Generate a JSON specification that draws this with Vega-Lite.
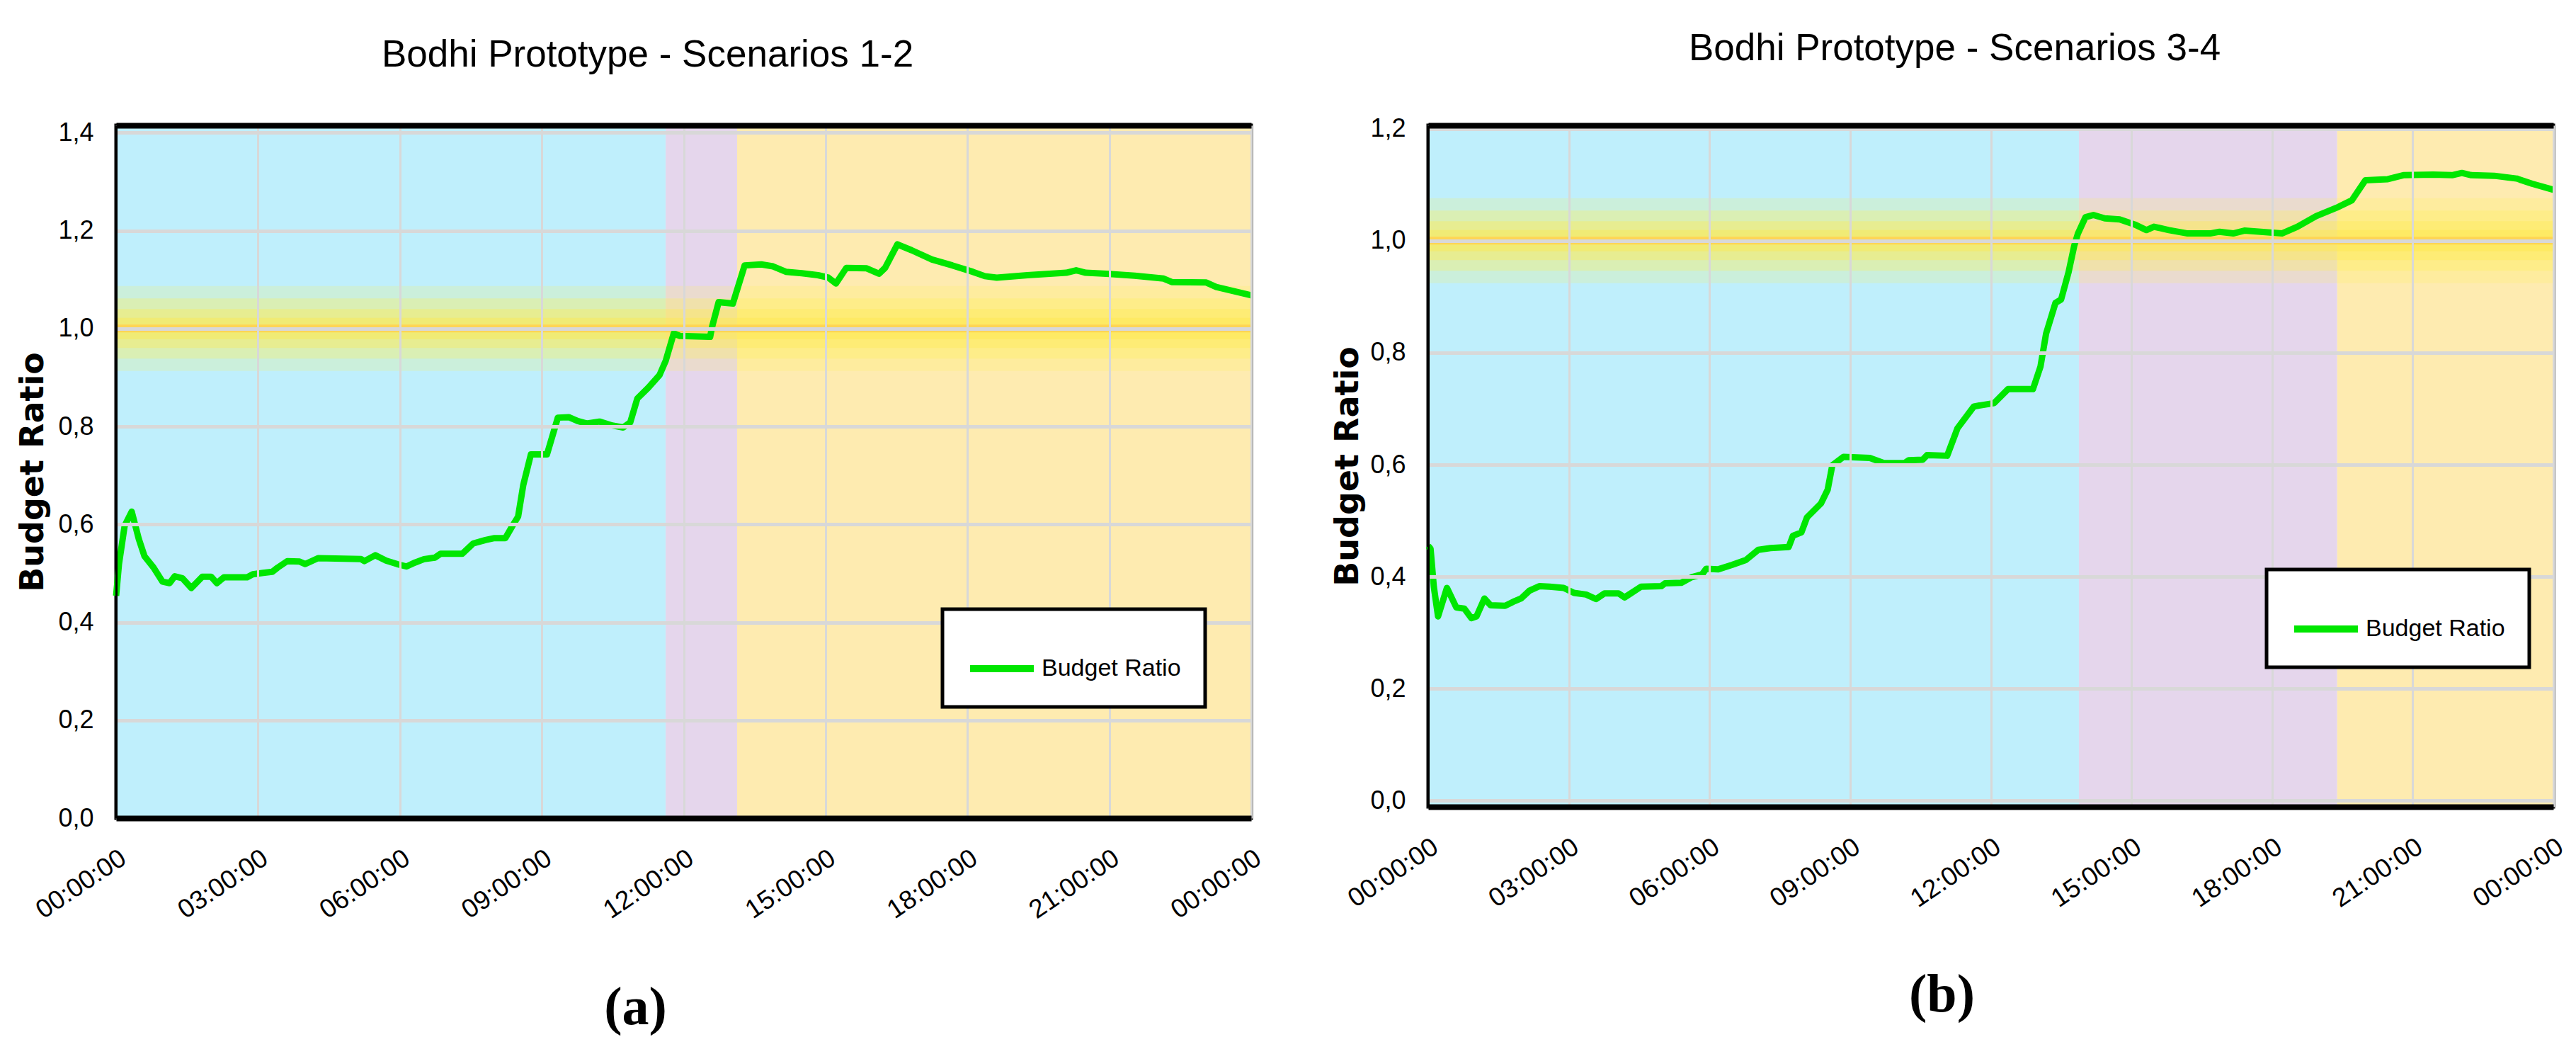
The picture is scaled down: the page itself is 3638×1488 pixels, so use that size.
{
  "$schema": "https://vega.github.io/schema/vega-lite/v6.json",
  "description": "Bodhi prototype budget ratio over a day, scenarios 1-2 and 3-4.",
  "background": "white",
  "padding": {"left": 20, "top": 40, "right": 10, "bottom": 10},
  "datasets": {
    "target": [{"level": 1}],
    "phases12": [
      {"start": 0, "end": 11.62, "phase": "first"},
      {"start": 11.62, "end": 13.13, "phase": "transition"},
      {"start": 13.13, "end": 24, "phase": "second"}
    ],
    "phases34": [
      {"start": 0, "end": 13.88, "phase": "first"},
      {"start": 13.88, "end": 19.39, "phase": "transition"},
      {"start": 19.39, "end": 24, "phase": "second"}
    ],
    "ratio12": [
      {"t": 0.0, "ratio": 0.454}, {"t": 0.06, "ratio": 0.519}, {"t": 0.18, "ratio": 0.597}, {"t": 0.33, "ratio": 0.626},
      {"t": 0.48, "ratio": 0.57}, {"t": 0.6, "ratio": 0.535}, {"t": 0.79, "ratio": 0.512}, {"t": 0.98, "ratio": 0.483},
      {"t": 1.13, "ratio": 0.48}, {"t": 1.24, "ratio": 0.494}, {"t": 1.4, "ratio": 0.49}, {"t": 1.59, "ratio": 0.47},
      {"t": 1.82, "ratio": 0.493}, {"t": 2.01, "ratio": 0.493}, {"t": 2.13, "ratio": 0.48}, {"t": 2.28, "ratio": 0.492},
      {"t": 2.77, "ratio": 0.492}, {"t": 2.89, "ratio": 0.498}, {"t": 3.11, "ratio": 0.501}, {"t": 3.3, "ratio": 0.503},
      {"t": 3.42, "ratio": 0.512}, {"t": 3.62, "ratio": 0.525}, {"t": 3.88, "ratio": 0.524}, {"t": 4.0, "ratio": 0.519},
      {"t": 4.27, "ratio": 0.531}, {"t": 5.18, "ratio": 0.529}, {"t": 5.25, "ratio": 0.525}, {"t": 5.48, "ratio": 0.537},
      {"t": 5.71, "ratio": 0.526}, {"t": 5.94, "ratio": 0.519}, {"t": 6.14, "ratio": 0.514}, {"t": 6.32, "ratio": 0.522},
      {"t": 6.51, "ratio": 0.529}, {"t": 6.74, "ratio": 0.532}, {"t": 6.86, "ratio": 0.54}, {"t": 7.32, "ratio": 0.54},
      {"t": 7.55, "ratio": 0.561}, {"t": 7.81, "ratio": 0.568}, {"t": 8.0, "ratio": 0.572}, {"t": 8.23, "ratio": 0.572},
      {"t": 8.38, "ratio": 0.597}, {"t": 8.5, "ratio": 0.616}, {"t": 8.61, "ratio": 0.681}, {"t": 8.77, "ratio": 0.743},
      {"t": 9.11, "ratio": 0.743}, {"t": 9.34, "ratio": 0.818}, {"t": 9.57, "ratio": 0.819}, {"t": 9.76, "ratio": 0.811},
      {"t": 9.95, "ratio": 0.806}, {"t": 10.22, "ratio": 0.81}, {"t": 10.49, "ratio": 0.802}, {"t": 10.72, "ratio": 0.798},
      {"t": 10.87, "ratio": 0.808}, {"t": 11.02, "ratio": 0.857}, {"t": 11.25, "ratio": 0.879}, {"t": 11.49, "ratio": 0.905},
      {"t": 11.62, "ratio": 0.934}, {"t": 11.79, "ratio": 0.99}, {"t": 11.92, "ratio": 0.985}, {"t": 12.56, "ratio": 0.983},
      {"t": 12.6, "ratio": 1.003}, {"t": 12.74, "ratio": 1.054}, {"t": 13.04, "ratio": 1.051}, {"t": 13.29, "ratio": 1.129},
      {"t": 13.64, "ratio": 1.131}, {"t": 13.89, "ratio": 1.127}, {"t": 14.16, "ratio": 1.116}, {"t": 14.5, "ratio": 1.113},
      {"t": 14.84, "ratio": 1.109}, {"t": 15.06, "ratio": 1.104}, {"t": 15.22, "ratio": 1.092}, {"t": 15.44, "ratio": 1.124},
      {"t": 15.87, "ratio": 1.123}, {"t": 16.13, "ratio": 1.112}, {"t": 16.26, "ratio": 1.124}, {"t": 16.52, "ratio": 1.172},
      {"t": 16.82, "ratio": 1.16}, {"t": 17.25, "ratio": 1.141}, {"t": 17.68, "ratio": 1.129}, {"t": 18.11, "ratio": 1.116},
      {"t": 18.37, "ratio": 1.107}, {"t": 18.62, "ratio": 1.104}, {"t": 19.27, "ratio": 1.109}, {"t": 20.09, "ratio": 1.114},
      {"t": 20.3, "ratio": 1.119}, {"t": 20.5, "ratio": 1.114}, {"t": 20.94, "ratio": 1.112}, {"t": 21.54, "ratio": 1.108},
      {"t": 22.15, "ratio": 1.102}, {"t": 22.32, "ratio": 1.095}, {"t": 23.05, "ratio": 1.094}, {"t": 23.26, "ratio": 1.085},
      {"t": 24.0, "ratio": 1.068}
    ],
    "ratio34": [
      {"t": 0.0, "ratio": 0.455}, {"t": 0.05, "ratio": 0.45}, {"t": 0.12, "ratio": 0.382}, {"t": 0.21, "ratio": 0.329},
      {"t": 0.4, "ratio": 0.38}, {"t": 0.6, "ratio": 0.345}, {"t": 0.77, "ratio": 0.343}, {"t": 0.92, "ratio": 0.326},
      {"t": 1.03, "ratio": 0.329}, {"t": 1.2, "ratio": 0.361}, {"t": 1.33, "ratio": 0.349}, {"t": 1.64, "ratio": 0.348},
      {"t": 1.81, "ratio": 0.355}, {"t": 1.98, "ratio": 0.361}, {"t": 2.16, "ratio": 0.375}, {"t": 2.37, "ratio": 0.383},
      {"t": 2.59, "ratio": 0.382}, {"t": 2.89, "ratio": 0.38}, {"t": 3.11, "ratio": 0.371}, {"t": 3.37, "ratio": 0.368},
      {"t": 3.58, "ratio": 0.36}, {"t": 3.76, "ratio": 0.37}, {"t": 4.06, "ratio": 0.37}, {"t": 4.19, "ratio": 0.363},
      {"t": 4.54, "ratio": 0.382}, {"t": 4.97, "ratio": 0.383}, {"t": 5.05, "ratio": 0.388}, {"t": 5.4, "ratio": 0.389},
      {"t": 5.62, "ratio": 0.399}, {"t": 5.84, "ratio": 0.404}, {"t": 5.93, "ratio": 0.414}, {"t": 6.18, "ratio": 0.413},
      {"t": 6.48, "ratio": 0.421}, {"t": 6.78, "ratio": 0.43}, {"t": 7.04, "ratio": 0.448}, {"t": 7.3, "ratio": 0.451},
      {"t": 7.69, "ratio": 0.453}, {"t": 7.78, "ratio": 0.473}, {"t": 7.96, "ratio": 0.479}, {"t": 8.08, "ratio": 0.506},
      {"t": 8.38, "ratio": 0.531}, {"t": 8.52, "ratio": 0.555}, {"t": 8.62, "ratio": 0.599}, {"t": 8.86, "ratio": 0.614},
      {"t": 9.42, "ratio": 0.612}, {"t": 9.72, "ratio": 0.603}, {"t": 10.16, "ratio": 0.603}, {"t": 10.25, "ratio": 0.608},
      {"t": 10.55, "ratio": 0.609}, {"t": 10.64, "ratio": 0.617}, {"t": 11.07, "ratio": 0.616}, {"t": 11.29, "ratio": 0.665},
      {"t": 11.64, "ratio": 0.704}, {"t": 12.07, "ratio": 0.71}, {"t": 12.37, "ratio": 0.735}, {"t": 12.9, "ratio": 0.735},
      {"t": 13.06, "ratio": 0.775}, {"t": 13.18, "ratio": 0.834}, {"t": 13.38, "ratio": 0.889}, {"t": 13.5, "ratio": 0.895},
      {"t": 13.66, "ratio": 0.944}, {"t": 13.78, "ratio": 0.991}, {"t": 13.86, "ratio": 1.013}, {"t": 14.02, "ratio": 1.042},
      {"t": 14.19, "ratio": 1.046}, {"t": 14.43, "ratio": 1.04}, {"t": 14.75, "ratio": 1.038}, {"t": 15.07, "ratio": 1.029},
      {"t": 15.32, "ratio": 1.019}, {"t": 15.48, "ratio": 1.025}, {"t": 15.8, "ratio": 1.019}, {"t": 16.2, "ratio": 1.013},
      {"t": 16.68, "ratio": 1.013}, {"t": 16.88, "ratio": 1.016}, {"t": 17.17, "ratio": 1.013}, {"t": 17.41, "ratio": 1.018},
      {"t": 18.21, "ratio": 1.013}, {"t": 18.54, "ratio": 1.025}, {"t": 18.94, "ratio": 1.044}, {"t": 19.38, "ratio": 1.059},
      {"t": 19.7, "ratio": 1.072}, {"t": 19.99, "ratio": 1.108}, {"t": 20.47, "ratio": 1.11}, {"t": 20.8, "ratio": 1.117},
      {"t": 21.44, "ratio": 1.118}, {"t": 21.84, "ratio": 1.117}, {"t": 22.05, "ratio": 1.121}, {"t": 22.25, "ratio": 1.117},
      {"t": 22.74, "ratio": 1.116}, {"t": 23.22, "ratio": 1.111}, {"t": 23.54, "ratio": 1.102}, {"t": 24.0, "ratio": 1.091}
    ]
  },
  "hconcat": [
    {
      "width": 1603,
      "height": 978,
      "title": {"text": "Bodhi Prototype - Scenarios 1-2", "dx": -51, "offset": 64},
      "layer": [
        {
          "data": {"name": "phases12"},
          "mark": {"type": "rect"},
          "encoding": {
            "x": {"field": "start", "type": "quantitative", "scale": {"domain": [0, 24], "nice": false},
              "axis": {"values": [0, 3, 6, 9, 12, 15, 18, 21, 24], "zindex": 1, "title": "(a)", "titleX": 733, "titleY": 267}},
            "x2": {"field": "end"},
            "fill": {"field": "phase", "type": "nominal", "scale": {"domain": ["first", "transition", "second"], "range": ["#bfeffc", "#e5d6ec", "#feebb0"]}, "legend": null}
          }
        },
        {"data": {"name": "target"}, "mark": {"type": "rule", "color": "#ffee58", "strokeWidth": 120, "opacity": 0.2}, "encoding": {"y": {"field": "level", "type": "quantitative"}}},
        {"data": {"name": "target"}, "mark": {"type": "rule", "color": "#ffee58", "strokeWidth": 85, "opacity": 0.3}, "encoding": {"y": {"field": "level", "type": "quantitative"}}},
        {"data": {"name": "target"}, "mark": {"type": "rule", "color": "#ffec50", "strokeWidth": 55, "opacity": 0.35}, "encoding": {"y": {"field": "level", "type": "quantitative"}}},
        {"data": {"name": "target"}, "mark": {"type": "rule", "color": "#ffe94a", "strokeWidth": 30, "opacity": 0.4}, "encoding": {"y": {"field": "level", "type": "quantitative"}}},
        {"data": {"name": "target"}, "mark": {"type": "rule", "color": "#ffd452", "strokeWidth": 11, "opacity": 0.95}, "encoding": {"y": {"field": "level", "type": "quantitative"}}},
        {
          "data": {"name": "ratio12"},
          "mark": {"type": "line", "strokeWidth": 9, "strokeJoin": "round", "zindex": 2},
          "encoding": {
            "x": {"field": "t", "type": "quantitative", "axis": {"orient": "top", "zindex": 1, "labels": false, "ticks": false, "grid": false, "title": null, "domainWidth": 8}},
            "y": {"field": "ratio", "type": "quantitative", "scale": {"domain": [0, 1.415], "nice": false, "zero": false},
              "axis": {"values": [0, 0.2, 0.4, 0.6, 0.8, 1.0, 1.2, 1.4], "zindex": 1, "title": "Budget Ratio", "titleX": -118}},
            "stroke": {"datum": "Budget Ratio", "type": "nominal", "scale": {"range": ["#00e600"]}, "legend": {"legendX": 1167, "legendY": 683}}
          }
        }
      ],
      "resolve": {"axis": {"x": "independent"}}
    },
    {
      "width": 1589,
      "height": 962,
      "title": {"text": "Bodhi Prototype - Scenarios 3-4", "dx": -51, "offset": 68},
      "layer": [
        {
          "data": {"name": "phases34"},
          "mark": {"type": "rect"},
          "encoding": {
            "x": {"field": "start", "type": "quantitative", "scale": {"domain": [0, 24], "nice": false},
              "axis": {"values": [0, 3, 6, 9, 12, 15, 18, 21, 24], "zindex": 1, "title": "(b)", "titleX": 725, "titleY": 265}},
            "x2": {"field": "end"},
            "fill": {"field": "phase", "type": "nominal", "scale": {"domain": ["first", "transition", "second"], "range": ["#bfeffc", "#e5d6ec", "#feebb0"]}, "legend": null}
          }
        },
        {"data": {"name": "target"}, "mark": {"type": "rule", "color": "#ffee58", "strokeWidth": 120, "opacity": 0.2}, "encoding": {"y": {"field": "level", "type": "quantitative"}}},
        {"data": {"name": "target"}, "mark": {"type": "rule", "color": "#ffee58", "strokeWidth": 85, "opacity": 0.3}, "encoding": {"y": {"field": "level", "type": "quantitative"}}},
        {"data": {"name": "target"}, "mark": {"type": "rule", "color": "#ffec50", "strokeWidth": 55, "opacity": 0.35}, "encoding": {"y": {"field": "level", "type": "quantitative"}}},
        {"data": {"name": "target"}, "mark": {"type": "rule", "color": "#ffe94a", "strokeWidth": 30, "opacity": 0.4}, "encoding": {"y": {"field": "level", "type": "quantitative"}}},
        {"data": {"name": "target"}, "mark": {"type": "rule", "color": "#ffd452", "strokeWidth": 11, "opacity": 0.95}, "encoding": {"y": {"field": "level", "type": "quantitative"}}},
        {
          "data": {"name": "ratio34"},
          "mark": {"type": "line", "strokeWidth": 9, "strokeJoin": "round", "zindex": 2},
          "encoding": {
            "x": {"field": "t", "type": "quantitative", "axis": {"orient": "top", "zindex": 1, "labels": false, "ticks": false, "grid": false, "title": null, "domainWidth": 8}},
            "y": {"field": "ratio", "type": "quantitative", "scale": {"domain": [-0.011, 1.206], "nice": false, "zero": false},
              "axis": {"values": [0, 0.2, 0.4, 0.6, 0.8, 1.0, 1.2], "zindex": 1, "title": "Budget Ratio", "titleX": -114}},
            "stroke": {"datum": "Budget Ratio", "type": "nominal", "scale": {"range": ["#00e600"]}, "legend": {"legendX": 1184, "legendY": 627}}
          }
        }
      ],
      "resolve": {"axis": {"x": "independent"}}
    }
  ],
  "resolve": {"scale": {"stroke": "independent", "fill": "independent"}, "legend": {"stroke": "independent"}},
  "bounds": "flush",
  "spacing": 250,
  "config": {
    "font": "Liberation Sans, Arial, sans-serif",
    "view": {"stroke": "black", "strokeWidth": 5},
    "title": {"font": "Liberation Sans, Arial, sans-serif", "fontSize": 53, "fontWeight": "normal", "color": "black", "anchor": "middle", "frame": "group", "baseline": "alphabetic"},
    "axis": {
      "labelFont": "Liberation Sans, Arial, sans-serif",
      "labelColor": "black",
      "ticks": false,
      "domainColor": "black",
      "gridColor": "#d8d8d8"
    },
    "axisX": {
      "labelExpr": "(datum.value % 24 < 10 ? '0' : '') + (datum.value % 24) + ':00:00'",
      "labelFontSize": 37,
      "labelAngle": -34,
      "labelAlign": "right",
      "labelBaseline": "top",
      "labelPadding": 38,
      "domainWidth": 8,
      "gridWidth": 3,
      "titleFont": "Liberation Serif, DejaVu Serif, serif",
      "titleFontSize": 76,
      "titleFontWeight": "bold",
      "titleColor": "black",
      "titleAlign": "center",
      "titleBaseline": "middle"
    },
    "axisY": {
      "labelExpr": "replace(format(datum.value, '.1f'), '.', ',')",
      "labelFontSize": 36,
      "labelPadding": 32,
      "domainWidth": 3,
      "gridWidth": 5,
      "titleFont": "DejaVu Sans",
      "titleFontSize": 46,
      "titleFontWeight": "bold",
      "titleColor": "black",
      "titleBaseline": "middle"
    },
    "legend": {
      "orient": "none",
      "zindex": 3,
      "title": null,
      "fillColor": "white",
      "strokeColor": "black",
      "strokeWidth": 5,
      "padding": 34,
      "symbolType": "stroke",
      "symbolSize": 8100,
      "symbolStrokeWidth": 10,
      "labelFont": "Liberation Sans, Arial, sans-serif",
      "labelFontSize": 34,
      "labelColor": "black",
      "labelOffset": 6,
      "labelLimit": 400
    }
  }
}
